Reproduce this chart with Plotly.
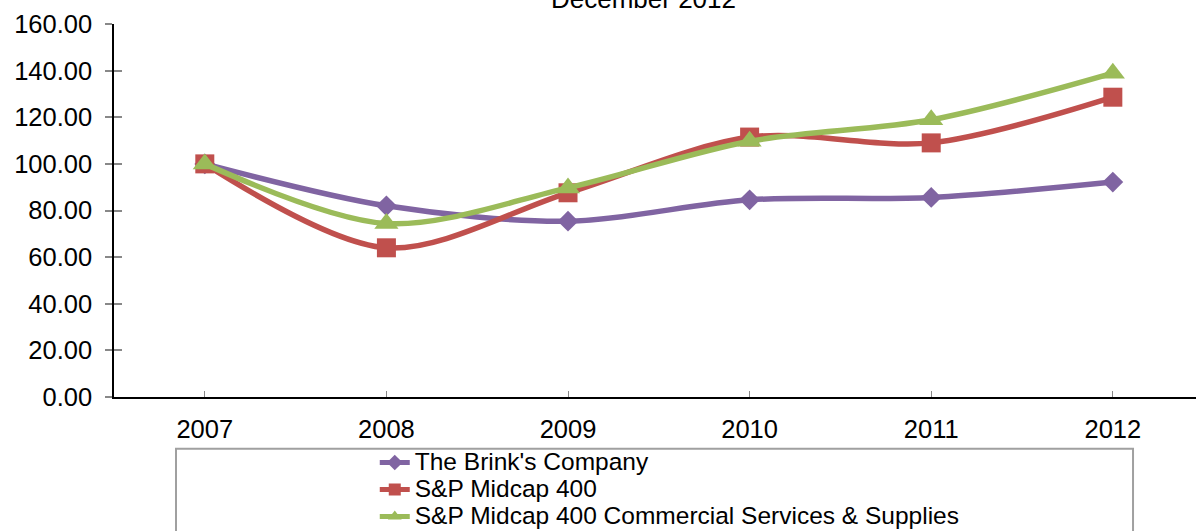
import plotly.graph_objects as go

years = ["2007", "2008", "2009", "2010", "2011", "2012"]
brinks = [100.00, 82.0, 75.4, 84.6, 85.6, 92.2]
midcap = [100.00, 64.0, 87.6, 111.5, 109.0, 128.6]
commercial = [100.00, 74.4, 89.7, 109.7, 118.9, 138.9]
y_ticks = [0, 20, 40, 60, 80, 100, 120, 140, 160]
names = ["The Brink's Company", "S&P Midcap 400",
         "S&P Midcap 400 Commercial Services & Supplies"]

series = [
    (names[0], brinks, "#8064A2", "diamond", 16),
    (names[1], midcap, "#C0504D", "square", 19),
    (names[2], commercial, "#9BBB59", "triangle-up", 21),
]

font = "Liberation Sans, Arial, sans-serif"
fig = go.Figure()
for name, vals, color, sym, size in series:
    fig.add_trace(go.Scatter(
        x=years, y=vals,
        name='<span style="font-size:24.5px">' + name.replace("&", "&amp;") + "</span>",
        mode="lines+markers",
        line=dict(color=color, width=5.5, shape="spline", smoothing=0.9),
        marker=dict(symbol=sym, size=size, color=color),
    ))

# invisible trace to enable overlay axis for crossing ticks
fig.add_trace(go.Scatter(x=years, y=brinks, yaxis="y2", mode="none",
                         showlegend=False, hoverinfo="skip"))

fig.update_layout(
    width=1196, height=531,
    margin=dict(l=114, r=0, t=24, b=134, autoexpand=False),
    paper_bgcolor="white", plot_bgcolor="white",
    font=dict(family=font, size=24, color="black"),
    showlegend=True,
    legend=dict(x=0.241, xanchor="left", y=-0.126, yanchor="top",
                bgcolor="rgba(0,0,0,0)", borderwidth=0,
                font=dict(family=font, size=18.5, color="black"),
                itemwidth=30, tracegroupgap=0, itemsizing="constant"),
    xaxis=dict(type="category", range=[-0.5, 5.458], showgrid=False,
               showline=True, linecolor="black", linewidth=1.5,
               ticks="inside", ticklen=6, tickcolor="#888888", tickwidth=1,
               ticklabelstandoff=9, zeroline=False,
               tickfont=dict(family=font, size=25.5, color="black")),
    yaxis=dict(range=[0, 160], tickvals=y_ticks, tickformat=".2f",
               showgrid=False, zeroline=False, showline=True,
               linecolor="black", linewidth=1.5,
               ticks="outside", ticklen=7, tickcolor="#888888", tickwidth=1.5,
               ticklabelstandoff=8,
               tickfont=dict(family=font, size=25.5, color="black")),
    yaxis2=dict(range=[0, 160], tickvals=y_ticks, overlaying="y", side="left",
                anchor="x", showgrid=False, zeroline=False, showline=False,
                ticks="inside", ticklen=8, tickcolor="#888888", tickwidth=1.5,
                showticklabels=False),
    annotations=[dict(text="December 2012", xref="paper", yref="paper",
                      x=0.489, y=1.067, xanchor="center", yanchor="middle",
                      showarrow=False,
                      font=dict(family=font, size=26, color="black"))],
    shapes=[dict(type="rect", xref="paper", yref="paper",
                 x0=0.0573, x1=0.9418, y0=-0.139, y1=-0.6,
                 line=dict(color="#A0A0A0", width=2), layer="below")],
)

fig.write_html("out.html",
               config={"displayModeBar": False},
               post_script="document.body.style.margin='0';"
                           "document.body.style.overflow='hidden';")
